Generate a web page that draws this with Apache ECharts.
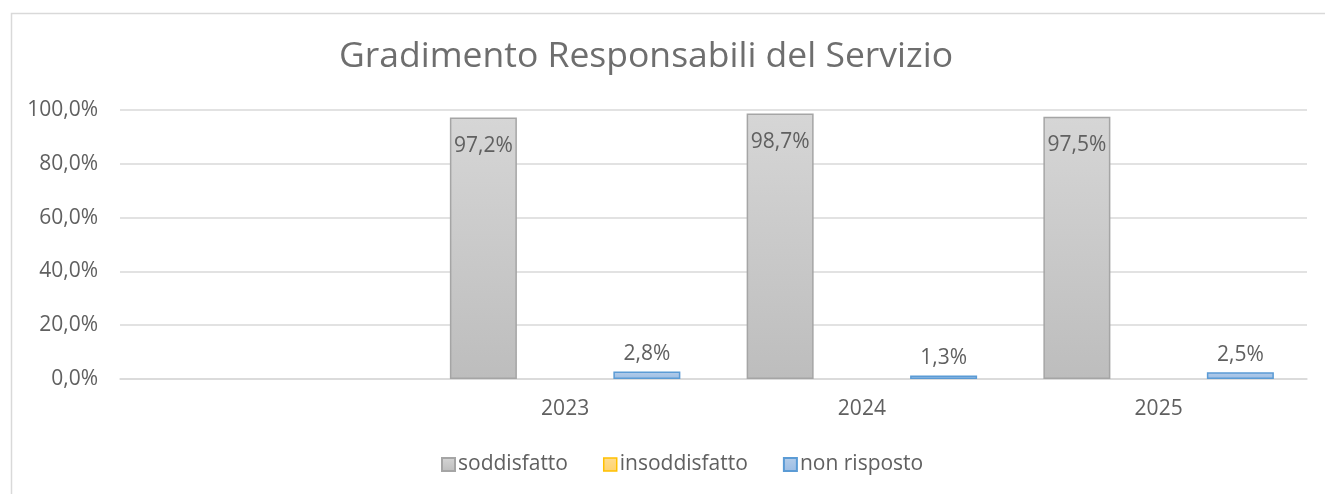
<!doctype html>
<html>
<head>
<meta charset="utf-8">
<title>Gradimento Responsabili del Servizio</title>
<script src="https://cdn.jsdelivr.net/npm/echarts@6/dist/echarts.min.js"></script>
<style>
  html, body { margin: 0; padding: 0; background: #fff; }
  #chart { width: 1325px; height: 494px; }
</style>
</head>
<body>
<div id="chart"></div>
<script>
// data (percent)
var categories = ['', '2023', '2024', '2025'];
var soddisfatto = [null, 97.2, 98.7, 97.5];
var insoddisfatto = [null, 0, 0, 0];
var nonRisposto = [null, 2.8, 1.3, 2.5];
var yTicks = [0, 20, 40, 60, 80, 100];

var font = 'Open Sans';
var txt = '#606060';

function pct(v) {
  return v.toFixed(1).replace('.', ',') + '%';
}

function grad(top, bottom) {
  return new echarts.graphic.LinearGradient(0, 0, 0, 1, [
    { offset: 0, color: top },
    { offset: 1, color: bottom }
  ]);
}

var chart = echarts.init(document.getElementById('chart'));

var option = {
  animation: false,
  textStyle: { fontFamily: font },
  graphic: [{
    type: 'rect',
    left: 9, top: 11,
    shape: { width: 1330, height: 500 },
    style: { fill: 'none', stroke: '#d9d9d9', lineWidth: 1.5 },
    silent: true
  }],
  title: {
    text: 'Gradimento Responsabili del Servizio',
    left: 334,
    top: 34,
    textStyle: { fontFamily: font, fontSize: 35.5, fontWeight: 'normal', color: '#6e6e6e' }
  },
  legend: {
    bottom: 14,
    left: 436,
    icon: 'rect',
    itemWidth: 13,
    itemHeight: 13,
    itemGap: 35,
    textStyle: { fontFamily: font, fontSize: 21, color: txt, padding: [0, 0, 0, -2] },
    data: [
      'soddisfatto',
      { name: 'insoddisfatto', itemStyle: { borderColor: '#ffc000', borderWidth: 1.5 } },
      'non risposto'
    ]
  },
  grid: { left: 120, right: 18, top: 110, bottom: 115 },
  xAxis: {
    type: 'category',
    data: categories,
    axisLine: { lineStyle: { color: '#d9d9d9', width: 1.5 } },
    axisTick: { show: false },
    axisLabel: { fontFamily: font, fontSize: 21, color: txt, margin: 20 }
  },
  yAxis: {
    type: 'value',
    min: yTicks[0],
    max: yTicks[yTicks.length - 1],
    interval: 20,
    axisLine: { show: false },
    axisTick: { show: false },
    splitLine: { lineStyle: { color: '#d9d9d9', width: 1.5 } },
    axisLabel: {
      fontFamily: font, fontSize: 21, color: txt, margin: 22,
      formatter: function (v) { return pct(v); }
    }
  },
  series: [
    {
      name: 'soddisfatto',
      type: 'bar',
      data: soddisfatto,
      barWidth: 67,
      barGap: '22%',
      itemStyle: { color: grad('#d6d6d6', '#bdbdbd'), borderColor: '#a5a5a5', borderWidth: 1.5 },
      label: {
        show: true, position: 'insideTop', distance: 18,
        fontFamily: font, fontSize: 21, color: txt,
        formatter: function (p) { return pct(p.value); }
      }
    },
    {
      name: 'insoddisfatto',
      type: 'bar',
      data: insoddisfatto,
      barWidth: 67,
      barGap: '22%',
      itemStyle: { color: grad('#ffdc8f', '#ffd36e'), borderWidth: 0 }
    },
    {
      name: 'non risposto',
      type: 'bar',
      data: nonRisposto,
      barWidth: 67,
      barGap: '22%',
      itemStyle: { color: grad('#b4cdea', '#9cbde4'), borderColor: '#5b9bd5', borderWidth: 1.5 },
      label: {
        show: true, position: 'top', distance: 7,
        fontFamily: font, fontSize: 21, color: txt,
        formatter: function (p) { return pct(p.value); }
      }
    }
  ]
};

chart.setOption(option);
</script>
</body>
</html>
